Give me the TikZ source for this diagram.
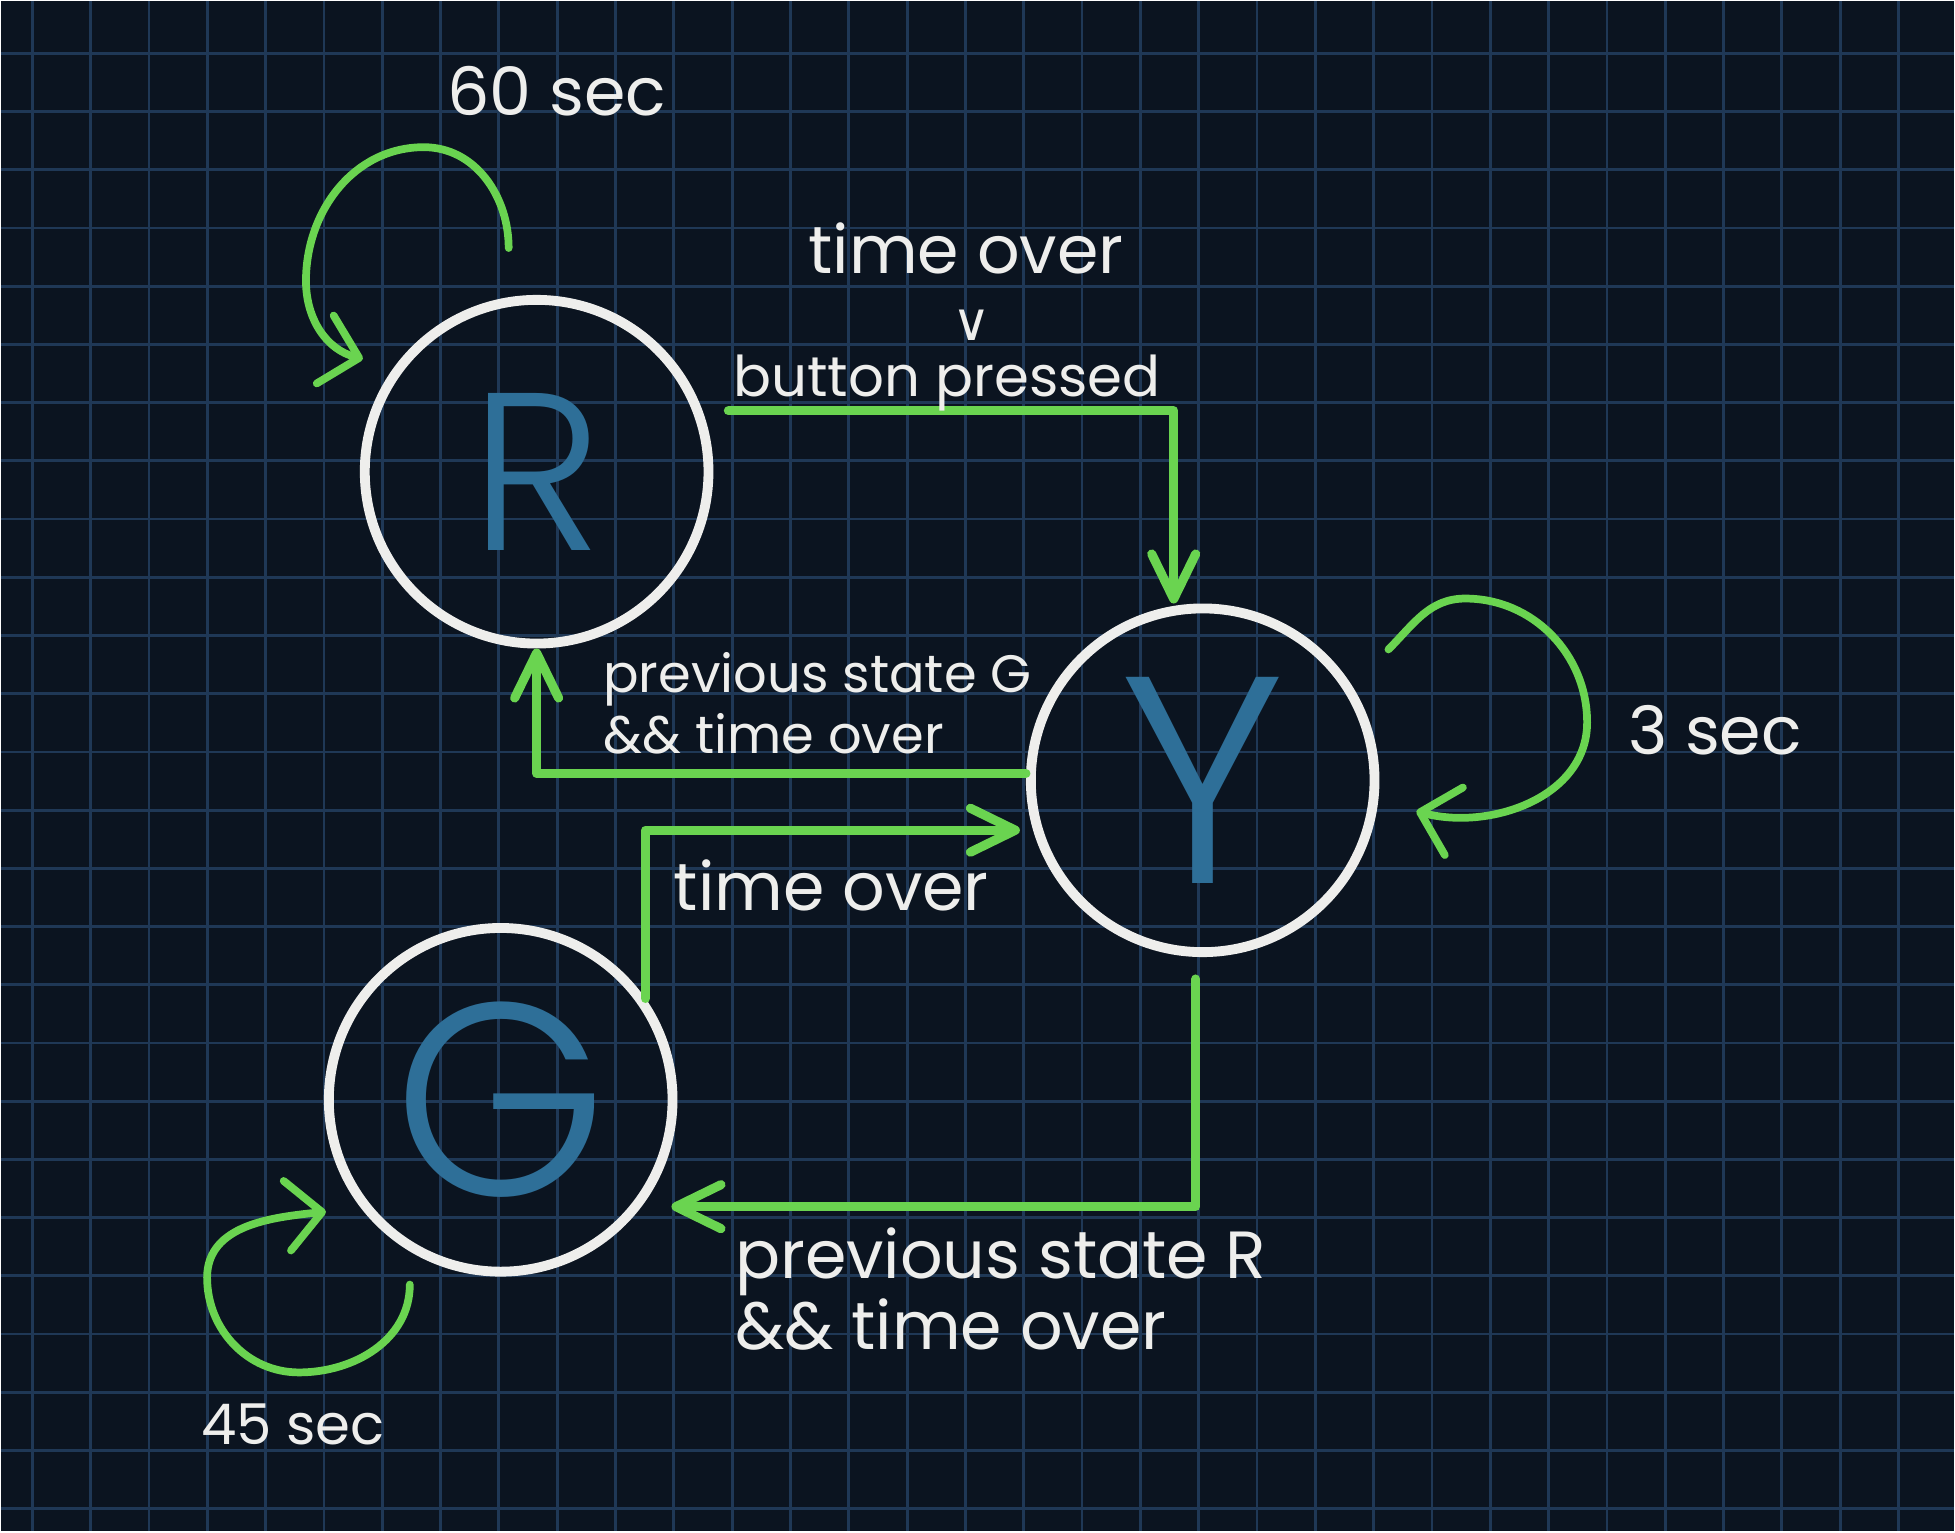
\documentclass[tikz,border=0pt]{standalone}
\usepackage{fontspec}
\setmainfont{Poppins}
\newfontfamily\letterfont{Poppins}[UprightFont=* Light]
\newfontfamily\symbfont{DejaVu Sans}
\usetikzlibrary{arrows.meta,calc}

\definecolor{bgnavy}{RGB}{11,20,32}
\definecolor{gridblue}{RGB}{31,56,86}
\definecolor{lime}{RGB}{106,212,80}
\definecolor{chalk}{RGB}{238,238,236}
\definecolor{inkblue}{RGB}{46,111,152}

\begin{document}
\begin{tikzpicture}[x=0.01cm, y=-0.01cm,
    state/.style={circle, draw=chalk, line width=2.8pt, minimum size=3.44cm, inner sep=0pt, text=inkblue},
    edge/.style={draw=lime, line width=2.6pt, line cap=round, line join=round, -{Straight Barb[length=4.5mm, width=4.4mm, round]}},
    loopedge/.style={edge, line width=2.2pt, -{Straight Barb[length=3.5mm, width=7mm, round]}},
    lbl/.style={text=chalk, inner sep=0pt, font=\fontsize{19}{17.5}\selectfont, anchor=base}]

    % Pozadi a mrizka
    \fill[bgnavy] (0,0) rectangle (1955,1532);
    \foreach \i in {0,...,32}
        \draw[gridblue, line width=0.8pt] (31+58.4*\i, 0) -- ++(0,1532);
    \foreach \j in {0,...,25}
        \draw[gridblue, line width=0.8pt] (0, 52+58.3*\j) -- ++(1955,0);
    \useasboundingbox (0,0) rectangle (1955,1532);

    % Stavy
    \node[state, font=\letterfont\fontsize{64}{64}\selectfont] (R) at (536,471) {R};
    \node[state, font=\letterfont\fontsize{84}{84}\selectfont] (Y) at (1203,780) {Y};
    \node[state, font=\letterfont\fontsize{78}{78}\selectfont] (G) at (500,1100) {G};

    % Prechody
    \draw[edge] ($(R.east)+(15,-61)$) -| ($(Y.north)+(-29,0)$);
    \draw[edge] ($(Y.west)+(0,-7)$) -| (R.south);
    \draw[edge] (G.35) |- ($(Y.west)+(-6,50)$);
    \draw[edge] ($(Y.south)+(-7,22)$) |- ($(G.east)+(-6,107)$);

    % Smycky
    \draw[loopedge] ($(R.center)+(-28,-224)$) to[out=90,in=0] ++(-85,-101)
        to[out=180,in=90] ++(-118,134) to[out=270,in=166] ++(57,78);
    \draw[loopedge] ($(Y.center)+(186,-131)$) to[out=45,in=180] ++(77,-51)
        to[out=0,in=90] ++(122,124) to[out=270,in=-15] ++(-171,89);
    \draw[loopedge] ($(G.center)+(-91,185)$) to[out=270,in=0] ++(-111,88)
        to[out=180,in=270] ++(-92,-95) to[out=90,in=186] ++(119,-66);

    % Popisky
    \node[lbl] (t60) at (556,114) {60 sec};
    \node[lbl] (tover) at (966,272) {time over};
    \node[lbl, font=\symbfont\fontsize{15}{15}\selectfont] (tor) at (972,340) {∨};
    \node[lbl, font=\fontsize{16}{16}\selectfont] (tbutton) at (947,396) {button pressed};
    \node[lbl, font=\fontsize{15}{17.5}\selectfont, anchor=north west, align=left] (tprevG) at (602,651) {previous state G\\\&\& time over};
    \node[lbl] (tover2) at (831,910) {time over};
    \node[lbl, anchor=north west, align=left] (tprevR) at (734,1227) {previous state R\\\&\& time over};
    \node[lbl] (t3) at (1716,754) {3 sec};
    \node[lbl, font=\fontsize{16}{16}\selectfont] (t45) at (292,1445) {45 sec};

\end{tikzpicture}
\end{document}
